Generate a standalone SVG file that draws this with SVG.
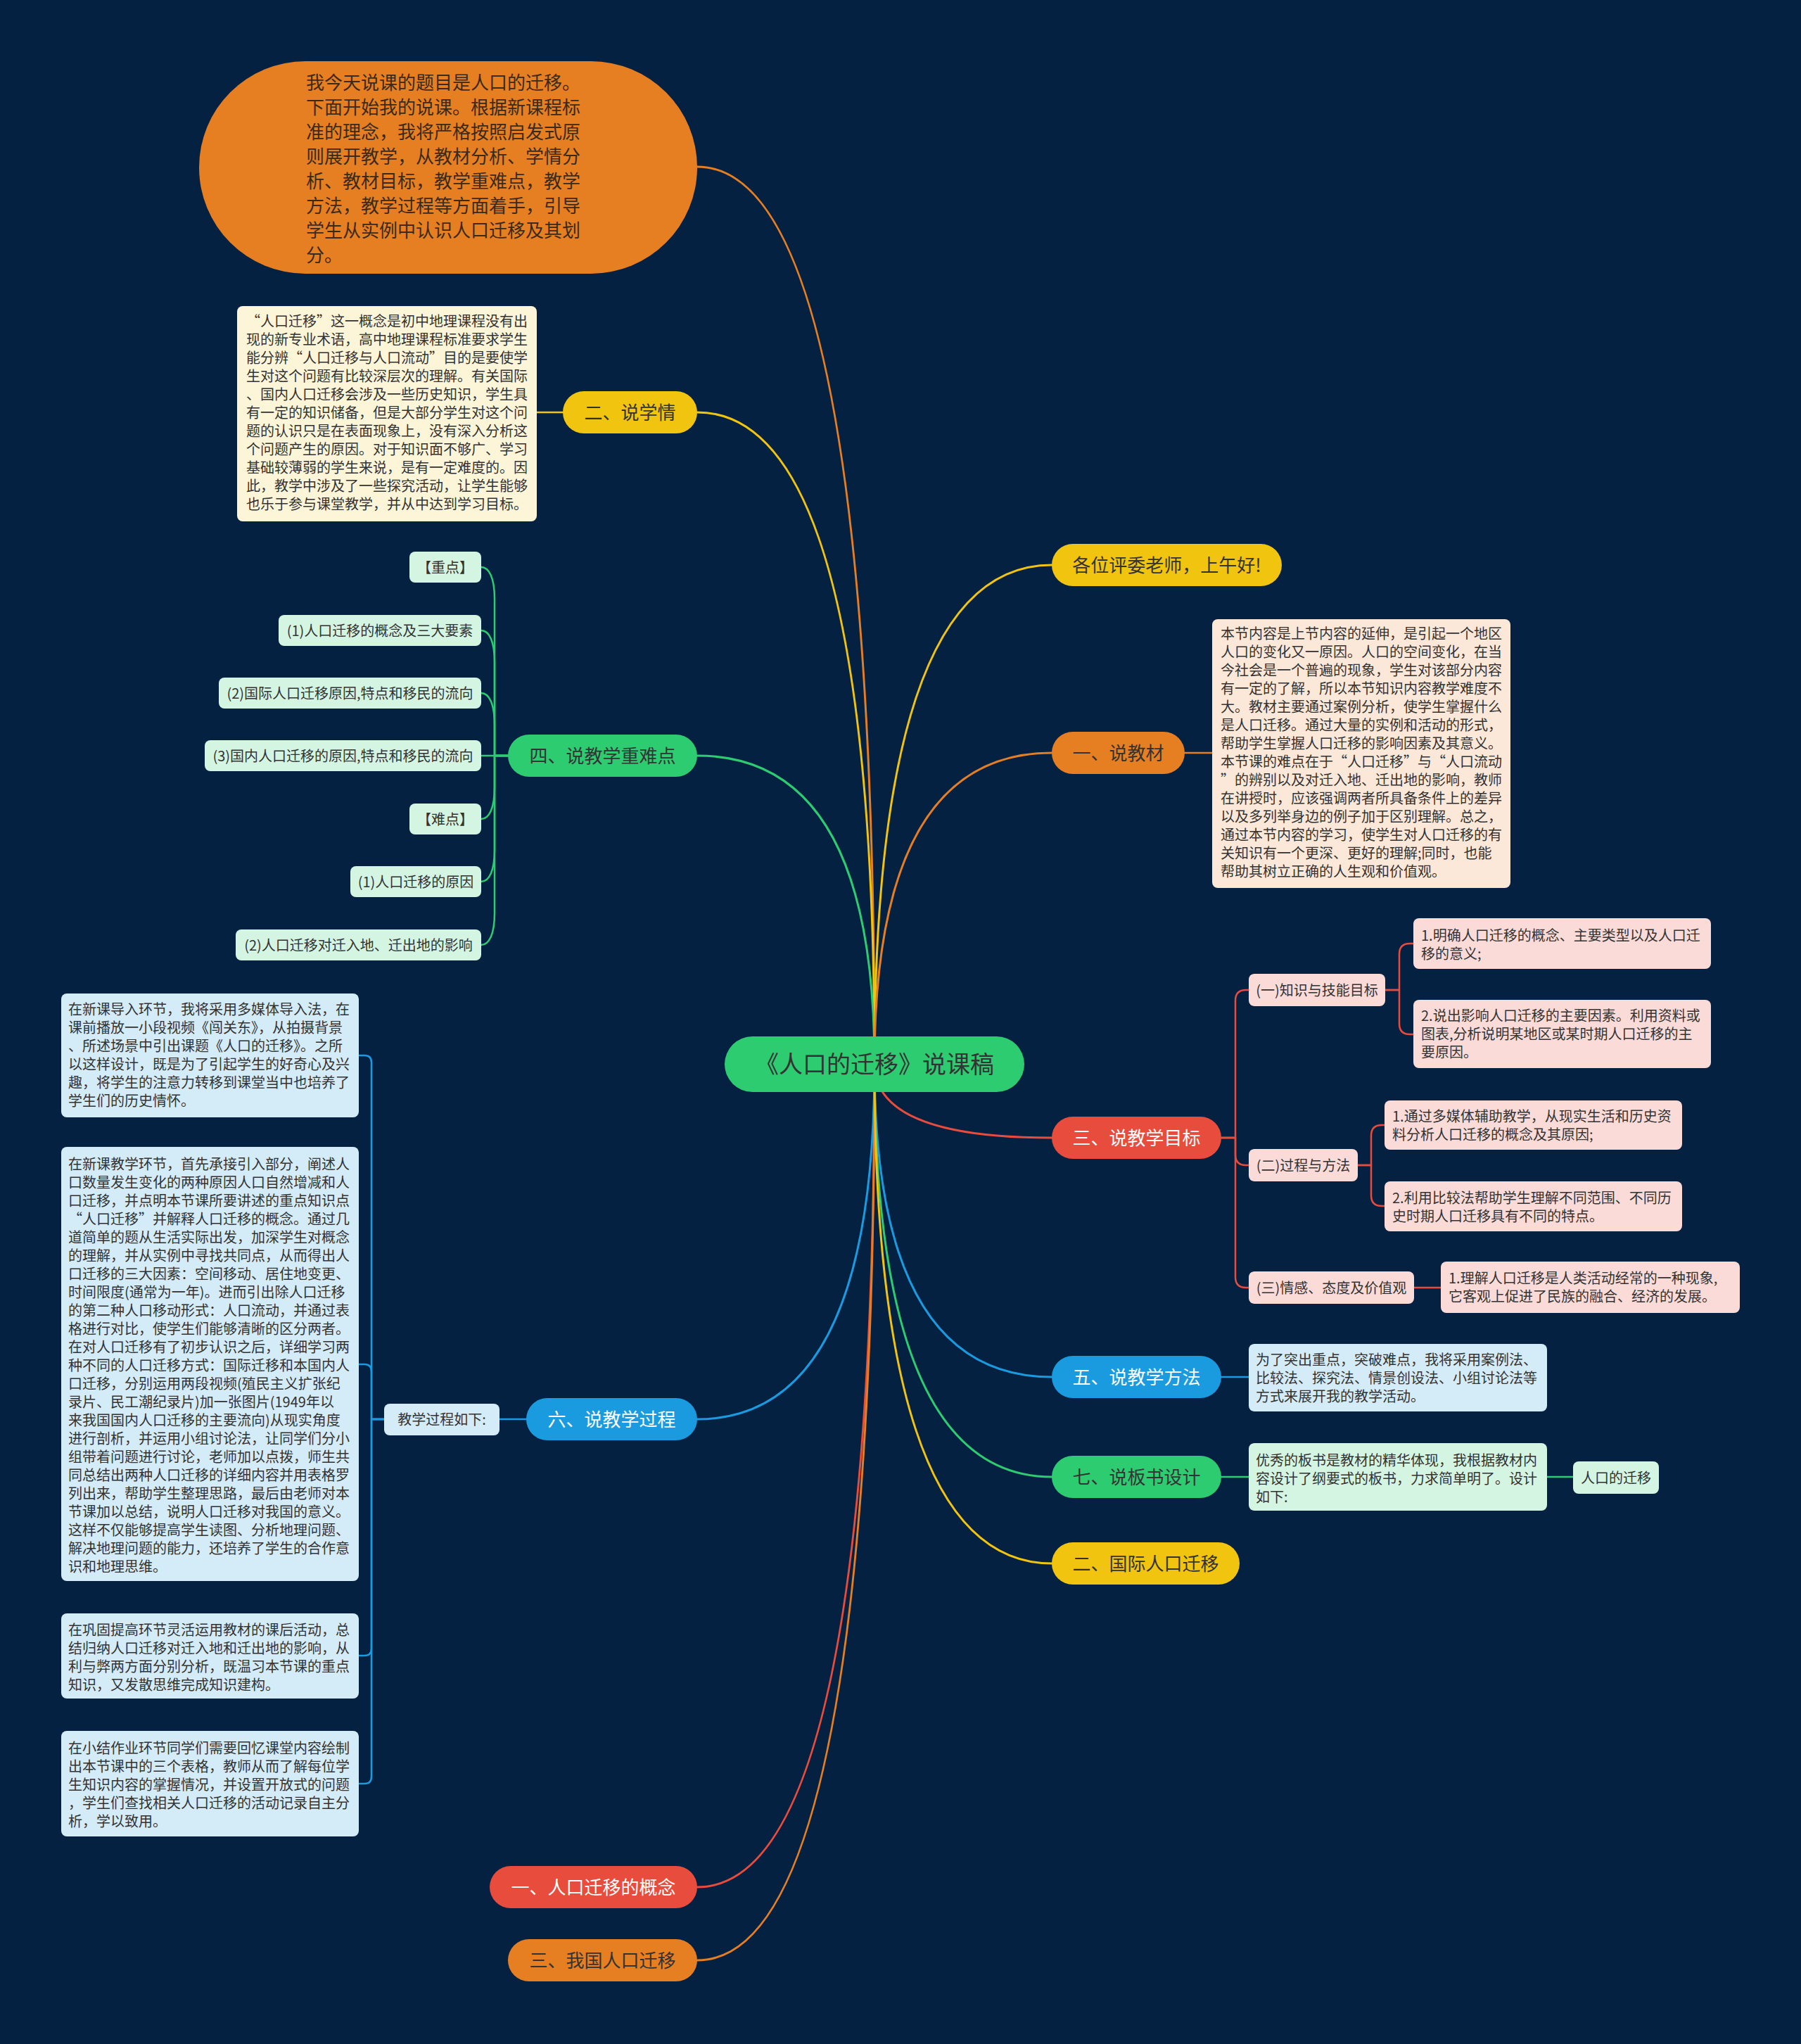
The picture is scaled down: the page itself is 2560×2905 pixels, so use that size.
<svg xmlns="http://www.w3.org/2000/svg" width="2560" height="2905" viewBox="0 0 2560 2905">
<style>
text{font-family:"Noto Sans CJK SC","Noto Sans",sans-serif;}
.dk{fill:#333333;}
.wt{fill:#ffffff;}
.f20{font-size:20px;}
.f26{font-size:26px;}
.mid{text-anchor:middle;}
.ln{fill:none;stroke-width:3;stroke-linecap:round;}
.sl{fill:none;stroke-width:2.5;stroke-linecap:round;stroke-linejoin:round;}
.y{stroke:#f1c40f;} .o{stroke:#e67e22;} .r{stroke:#e74c3c;} .b{stroke:#1a9be0;} .g{stroke:#2ecc71;}
.cream{fill:#fcf5d7;} .peach{fill:#fbe8d8;} .lg{fill:#d5f5e3;} .pk{fill:#fadbd8;} .lb{fill:#d4ebf8;}
</style>
<rect width="2560" height="2905" fill="#042142"/>

<g id="connectors">
  <path class="ln o" d="M1243 1512 Q1243 237 991 237"/>
  <path class="ln y" d="M1243 1512 Q1243 586 991 586"/>
  <path class="ln g" d="M1243 1512 Q1243 1074 991 1074"/>
  <path class="ln b" d="M1243 1512 Q1243 2017 991 2017"/>
  <path class="ln r" d="M1243 1512 Q1243 2682 991 2682"/>
  <path class="ln o" d="M1243 1512 Q1243 2786 991 2786"/>
  <path class="ln y" d="M1243 1512 Q1243 803 1495 803"/>
  <path class="ln o" d="M1243 1512 Q1243 1070 1495 1070"/>
  <path class="ln r" d="M1243 1512 Q1243 1617 1495 1617"/>
  <path class="ln b" d="M1243 1512 Q1243 1957 1495 1957"/>
  <path class="ln g" d="M1243 1512 Q1243 2099 1495 2099"/>
  <path class="ln y" d="M1243 1512 Q1243 2222 1495 2222"/>
  <!-- sub links -->
  <path class="sl y" d="M800 586 H763"/>
  <path class="sl o" d="M1684 1070 H1723"/>
  <path class="sl g" d="M722 1074 H703 V851 C703 821 695 806 684 806"/>
  <path class="sl g" d="M722 1074 H703 V941 C703 911 695 896 684 896"/>
  <path class="sl g" d="M722 1074 H703 V1030 C703 1000 695 985 684 985"/>
  <path class="sl g" d="M722 1074 H684"/>
  <path class="sl g" d="M722 1074 H703 V1119 C703 1149 695 1164 684 1164"/>
  <path class="sl g" d="M722 1074 H703 V1208 C703 1238 695 1253 684 1253"/>
  <path class="sl g" d="M722 1074 H703 V1298 C703 1328 695 1343 684 1343"/>
  <path class="sl r" d="M1736 1617 H1756 V1422 Q1756 1407 1771 1407 H1775"/>
  <path class="sl r" d="M1736 1617 H1756 V1641 Q1756 1656 1771 1656 H1775"/>
  <path class="sl r" d="M1736 1617 H1756 V1815 Q1756 1830 1771 1830 H1775"/>
  <path class="sl r" d="M1969 1407 H1989 V1356 Q1989 1341 2004 1341 H2009"/>
  <path class="sl r" d="M1969 1407 H1989 V1455 Q1989 1470 2004 1470 H2009"/>
  <path class="sl r" d="M1930 1656 H1949 V1614 Q1949 1599 1964 1599 H1968"/>
  <path class="sl r" d="M1930 1656 H1949 V1699 Q1949 1714 1964 1714 H1968"/>
  <path class="sl r" d="M2010 1830 H2048"/>
  <path class="sl b" d="M1736 1957 H1775"/>
  <path class="sl g" d="M1736 2099 H1775"/>
  <path class="sl g" d="M2199 2099 H2236"/>
  <path class="sl b" d="M748 2017 H710"/>
  <path class="sl b" d="M546 2017 H528 V1510 Q528 1500 518 1500 H510"/>
  <path class="sl b" d="M546 2017 H528 V1949 Q528 1939 518 1939 H510"/>
  <path class="sl b" d="M546 2017 H528 V2343 Q528 2353 518 2353 H510"/>
  <path class="sl b" d="M546 2017 H528 V2525 Q528 2535 518 2535 H510"/>
</g>

<g id="center">
  <rect x="1030" y="1473" width="426" height="79" rx="39.5" fill="#2ecc71"/>
  <text x="1243" y="1525" class="dk mid" font-size="34">《人口的迁移》说课稿</text>
</g>

<g id="intro">
  <rect x="283" y="87" width="708" height="302" rx="151" fill="#e67e22"/>
  <text class="f26" fill="#3a2a1c" x="435" y="127">
    <tspan x="435">我今天说课的题目是人口的迁移。</tspan>
    <tspan x="435" dy="35">下面开始我的说课。根据新课程标</tspan>
    <tspan x="435" dy="35">准的理念，我将严格按照启发式原</tspan>
    <tspan x="435" dy="35">则展开教学，从教材分析、学情分</tspan>
    <tspan x="435" dy="35">析、教材目标，教学重难点，教学</tspan>
    <tspan x="435" dy="35">方法，教学过程等方面着手，引导</tspan>
    <tspan x="435" dy="35">学生从实例中认识人口迁移及其划</tspan>
    <tspan x="435" dy="35">分。</tspan>
  </text>
</g>

<g id="n-xueqing">
  <rect x="800" y="556" width="191" height="60" rx="30" fill="#f1c40f"/>
  <text x="895.5" y="596" class="dk f26 mid">二、说学情</text>
</g>
<g id="n-xueqing-text">
  <rect x="337" y="435" width="426" height="306" rx="8" class="cream"/>
  <text class="dk f20" x="350" y="464">
    <tspan x="350">“人口迁移”这一概念是初中地理课程没有出</tspan>
    <tspan x="350" dy="26">现的新专业术语，高中地理课程标准要求学生</tspan>
    <tspan x="350" dy="26">能分辨“人口迁移与人口流动”目的是要使学</tspan>
    <tspan x="350" dy="26">生对这个问题有比较深层次的理解。有关国际</tspan>
    <tspan x="350" dy="26">、国内人口迁移会涉及一些历史知识，学生具</tspan>
    <tspan x="350" dy="26">有一定的知识储备，但是大部分学生对这个问</tspan>
    <tspan x="350" dy="26">题的认识只是在表面现象上，没有深入分析这</tspan>
    <tspan x="350" dy="26">个问题产生的原因。对于知识面不够广、学习</tspan>
    <tspan x="350" dy="26">基础较薄弱的学生来说，是有一定难度的。因</tspan>
    <tspan x="350" dy="26">此，教学中涉及了一些探究活动，让学生能够</tspan>
    <tspan x="350" dy="26">也乐于参与课堂教学，并从中达到学习目标。</tspan>
  </text>
</g>

<g id="n-zhongnan">
  <rect x="722" y="1044" width="269" height="60" rx="30" fill="#2ecc71"/>
  <text x="856.5" y="1084" class="dk f26 mid">四、说教学重难点</text>
</g>
<g id="n-zn-1"><rect x="582" y="784" width="102" height="44" rx="8" class="lg"/><text x="633" y="814" class="dk f20 mid">【重点】</text></g>
<g id="n-zn-2"><rect x="396" y="874" width="288" height="44" rx="8" class="lg"/><text x="540" y="904" class="dk f20 mid">(1)人口迁移的概念及三大要素</text></g>
<g id="n-zn-3"><rect x="311" y="963" width="373" height="44" rx="8" class="lg"/><text x="497.5" y="993" class="dk f20 mid">(2)国际人口迁移原因,特点和移民的流向</text></g>
<g id="n-zn-4"><rect x="291" y="1052" width="393" height="44" rx="8" class="lg"/><text x="487.5" y="1082" class="dk f20 mid">(3)国内人口迁移的原因,特点和移民的流向</text></g>
<g id="n-zn-5"><rect x="582" y="1142" width="102" height="44" rx="8" class="lg"/><text x="633" y="1172" class="dk f20 mid">【难点】</text></g>
<g id="n-zn-6"><rect x="498" y="1231" width="186" height="44" rx="8" class="lg"/><text x="591" y="1261" class="dk f20 mid">(1)人口迁移的原因</text></g>
<g id="n-zn-7"><rect x="335" y="1321" width="349" height="44" rx="8" class="lg"/><text x="509.5" y="1351" class="dk f20 mid">(2)人口迁移对迁入地、迁出地的影响</text></g>

<g id="n-guocheng">
  <rect x="748" y="1987" width="243" height="60" rx="30" fill="#1a9be0"/>
  <text x="869.5" y="2027" class="wt f26 mid">六、说教学过程</text>
</g>
<g id="n-gc-ru">
  <rect x="546" y="1995" width="164" height="45" rx="8" class="lb"/>
  <text x="628" y="2025" class="dk f20 mid">教学过程如下:</text>
</g>
<g id="n-gc-a">
  <rect x="87" y="1412" width="423" height="176" rx="8" class="lb"/>
  <text class="dk f20" x="97" y="1442">
    <tspan x="97">在新课导入环节，我将采用多媒体导入法，在</tspan>
    <tspan x="97" dy="26">课前播放一小段视频《闯关东》，从拍摄背景</tspan>
    <tspan x="97" dy="26">、所述场景中引出课题《人口的迁移》。之所</tspan>
    <tspan x="97" dy="26">以这样设计，既是为了引起学生的好奇心及兴</tspan>
    <tspan x="97" dy="26">趣，将学生的注意力转移到课堂当中也培养了</tspan>
    <tspan x="97" dy="26">学生们的历史情怀。</tspan>
  </text>
</g>
<g id="n-gc-b">
  <rect x="87" y="1630" width="423" height="617" rx="8" class="lb"/>
  <text class="dk f20" x="97" y="1662">
    <tspan x="97">在新课教学环节，首先承接引入部分，阐述人</tspan>
    <tspan x="97" dy="26">口数量发生变化的两种原因人口自然增减和人</tspan>
    <tspan x="97" dy="26">口迁移，并点明本节课所要讲述的重点知识点</tspan>
    <tspan x="97" dy="26">“人口迁移”并解释人口迁移的概念。通过几</tspan>
    <tspan x="97" dy="26">道简单的题从生活实际出发，加深学生对概念</tspan>
    <tspan x="97" dy="26">的理解，并从实例中寻找共同点，从而得出人</tspan>
    <tspan x="97" dy="26">口迁移的三大因素：空间移动、居住地变更、</tspan>
    <tspan x="97" dy="26">时间限度(通常为一年)。进而引出除人口迁移</tspan>
    <tspan x="97" dy="26">的第二种人口移动形式：人口流动，并通过表</tspan>
    <tspan x="97" dy="26">格进行对比，使学生们能够清晰的区分两者。</tspan>
    <tspan x="97" dy="26">在对人口迁移有了初步认识之后，详细学习两</tspan>
    <tspan x="97" dy="26">种不同的人口迁移方式：国际迁移和本国内人</tspan>
    <tspan x="97" dy="26">口迁移，分别运用两段视频(殖民主义扩张纪</tspan>
    <tspan x="97" dy="26">录片、民工潮纪录片)加一张图片(1949年以</tspan>
    <tspan x="97" dy="26">来我国国内人口迁移的主要流向)从现实角度</tspan>
    <tspan x="97" dy="26">进行剖析，并运用小组讨论法，让同学们分小</tspan>
    <tspan x="97" dy="26">组带着问题进行讨论，老师加以点拨，师生共</tspan>
    <tspan x="97" dy="26">同总结出两种人口迁移的详细内容并用表格罗</tspan>
    <tspan x="97" dy="26">列出来，帮助学生整理思路，最后由老师对本</tspan>
    <tspan x="97" dy="26">节课加以总结，说明人口迁移对我国的意义。</tspan>
    <tspan x="97" dy="26">这样不仅能够提高学生读图、分析地理问题、</tspan>
    <tspan x="97" dy="26">解决地理问题的能力，还培养了学生的合作意</tspan>
    <tspan x="97" dy="26">识和地理思维。</tspan>
  </text>
</g>
<g id="n-gc-c">
  <rect x="87" y="2293" width="423" height="121" rx="8" class="lb"/>
  <text class="dk f20" x="97" y="2324">
    <tspan x="97">在巩固提高环节灵活运用教材的课后活动，总</tspan>
    <tspan x="97" dy="26">结归纳人口迁移对迁入地和迁出地的影响，从</tspan>
    <tspan x="97" dy="26">利与弊两方面分别分析，既温习本节课的重点</tspan>
    <tspan x="97" dy="26">知识，又发散思维完成知识建构。</tspan>
  </text>
</g>
<g id="n-gc-d">
  <rect x="87" y="2460" width="423" height="150" rx="8" class="lb"/>
  <text class="dk f20" x="97" y="2492">
    <tspan x="97">在小结作业环节同学们需要回忆课堂内容绘制</tspan>
    <tspan x="97" dy="26">出本节课中的三个表格，教师从而了解每位学</tspan>
    <tspan x="97" dy="26">生知识内容的掌握情况，并设置开放式的问题</tspan>
    <tspan x="97" dy="26">，学生们查找相关人口迁移的活动记录自主分</tspan>
    <tspan x="97" dy="26">析，学以致用。</tspan>
  </text>
</g>

<g id="n-gainian">
  <rect x="696" y="2652" width="295" height="60" rx="30" fill="#e74c3c"/>
  <text x="843.5" y="2692" class="wt f26 mid">一、人口迁移的概念</text>
</g>
<g id="n-woguo">
  <rect x="722" y="2756" width="269" height="60" rx="30" fill="#e67e22"/>
  <text x="856.5" y="2796" class="dk f26 mid">三、我国人口迁移</text>
</g>

<g id="n-hello">
  <rect x="1495" y="773" width="327" height="60" rx="30" fill="#f1c40f"/>
  <text x="1658.5" y="813" class="dk f26 mid">各位评委老师，上午好!</text>
</g>

<g id="n-jiaocai">
  <rect x="1495" y="1040" width="189" height="60" rx="30" fill="#e67e22"/>
  <text x="1589.5" y="1080" class="dk f26 mid">一、说教材</text>
</g>
<g id="n-jiaocai-text">
  <rect x="1723" y="880" width="424" height="382" rx="8" class="peach"/>
  <text class="dk f20" x="1735" y="908">
    <tspan x="1735">本节内容是上节内容的延伸，是引起一个地区</tspan>
    <tspan x="1735" dy="26">人口的变化又一原因。人口的空间变化，在当</tspan>
    <tspan x="1735" dy="26">今社会是一个普遍的现象，学生对该部分内容</tspan>
    <tspan x="1735" dy="26">有一定的了解，所以本节知识内容教学难度不</tspan>
    <tspan x="1735" dy="26">大。教材主要通过案例分析，使学生掌握什么</tspan>
    <tspan x="1735" dy="26">是人口迁移。通过大量的实例和活动的形式，</tspan>
    <tspan x="1735" dy="26">帮助学生掌握人口迁移的影响因素及其意义。</tspan>
    <tspan x="1735" dy="26">本节课的难点在于“人口迁移”与“人口流动</tspan>
    <tspan x="1735" dy="26">”的辨别以及对迁入地、迁出地的影响，教师</tspan>
    <tspan x="1735" dy="26">在讲授时，应该强调两者所具备条件上的差异</tspan>
    <tspan x="1735" dy="26">以及多列举身边的例子加于区别理解。总之，</tspan>
    <tspan x="1735" dy="26">通过本节内容的学习，使学生对人口迁移的有</tspan>
    <tspan x="1735" dy="26">关知识有一个更深、更好的理解;同时，也能</tspan>
    <tspan x="1735" dy="26">帮助其树立正确的人生观和价值观。</tspan>
  </text>
</g>

<g id="n-mubiao">
  <rect x="1495" y="1587" width="241" height="60" rx="30" fill="#e74c3c"/>
  <text x="1615.5" y="1627" class="wt f26 mid">三、说教学目标</text>
</g>
<g id="n-mb-1"><rect x="1775" y="1384" width="194" height="46" rx="8" class="pk"/><text x="1872" y="1415" class="dk f20 mid">(一)知识与技能目标</text></g>
<g id="n-mb-2"><rect x="1775" y="1633" width="155" height="46" rx="8" class="pk"/><text x="1852.5" y="1664" class="dk f20 mid">(二)过程与方法</text></g>
<g id="n-mb-3"><rect x="1775" y="1807" width="235" height="46" rx="8" class="pk"/><text x="1892.5" y="1838" class="dk f20 mid">(三)情感、态度及价值观</text></g>
<g id="n-mb-1a">
  <rect x="2009" y="1305" width="423" height="72" rx="8" class="pk"/>
  <text class="dk f20" x="2020" y="1337"><tspan x="2020">1.明确人口迁移的概念、主要类型以及人口迁</tspan><tspan x="2020" dy="26">移的意义;</tspan></text>
</g>
<g id="n-mb-1b">
  <rect x="2009" y="1421" width="423" height="97" rx="8" class="pk"/>
  <text class="dk f20" x="2020" y="1451"><tspan x="2020">2.说出影响人口迁移的主要因素。利用资料或</tspan><tspan x="2020" dy="26">图表,分析说明某地区或某时期人口迁移的主</tspan><tspan x="2020" dy="26">要原因。</tspan></text>
</g>
<g id="n-mb-2a">
  <rect x="1968" y="1564" width="423" height="70" rx="8" class="pk"/>
  <text class="dk f20" x="1979" y="1594"><tspan x="1979">1.通过多媒体辅助教学，从现实生活和历史资</tspan><tspan x="1979" dy="26">料分析人口迁移的概念及其原因;</tspan></text>
</g>
<g id="n-mb-2b">
  <rect x="1968" y="1679" width="423" height="71" rx="8" class="pk"/>
  <text class="dk f20" x="1979" y="1710"><tspan x="1979">2.利用比较法帮助学生理解不同范围、不同历</tspan><tspan x="1979" dy="26">史时期人口迁移具有不同的特点。</tspan></text>
</g>
<g id="n-mb-3a">
  <rect x="2048" y="1793" width="425" height="73" rx="8" class="pk"/>
  <text class="dk f20" x="2059" y="1824"><tspan x="2059">1.理解人口迁移是人类活动经常的一种现象,</tspan><tspan x="2059" dy="26">它客观上促进了民族的融合、经济的发展。</tspan></text>
</g>

<g id="n-fangfa">
  <rect x="1495" y="1927" width="241" height="60" rx="30" fill="#1a9be0"/>
  <text x="1615.5" y="1967" class="wt f26 mid">五、说教学方法</text>
</g>
<g id="n-fangfa-text">
  <rect x="1775" y="1910" width="424" height="96" rx="8" class="lb"/>
  <text class="dk f20" x="1785" y="1940"><tspan x="1785">为了突出重点，突破难点，我将采用案例法、</tspan><tspan x="1785" dy="26">比较法、探究法、情景创设法、小组讨论法等</tspan><tspan x="1785" dy="26">方式来展开我的教学活动。</tspan></text>
</g>

<g id="n-banshu">
  <rect x="1495" y="2069" width="241" height="60" rx="30" fill="#2ecc71"/>
  <text x="1615.5" y="2109" class="dk f26 mid">七、说板书设计</text>
</g>
<g id="n-banshu-text">
  <rect x="1775" y="2051" width="424" height="96" rx="8" class="lg"/>
  <text class="dk f20" x="1785" y="2083"><tspan x="1785">优秀的板书是教材的精华体现，我根据教材内</tspan><tspan x="1785" dy="26">容设计了纲要式的板书，力求简单明了。设计</tspan><tspan x="1785" dy="26">如下:</tspan></text>
</g>
<g id="n-banshu-title">
  <rect x="2236" y="2077" width="122" height="46" rx="8" class="lg"/>
  <text x="2297" y="2108" class="dk f20 mid">人口的迁移</text>
</g>

<g id="n-guoji">
  <rect x="1495" y="2192" width="267" height="60" rx="30" fill="#f1c40f"/>
  <text x="1628.5" y="2232" class="dk f26 mid">二、国际人口迁移</text>
</g>
</svg>
